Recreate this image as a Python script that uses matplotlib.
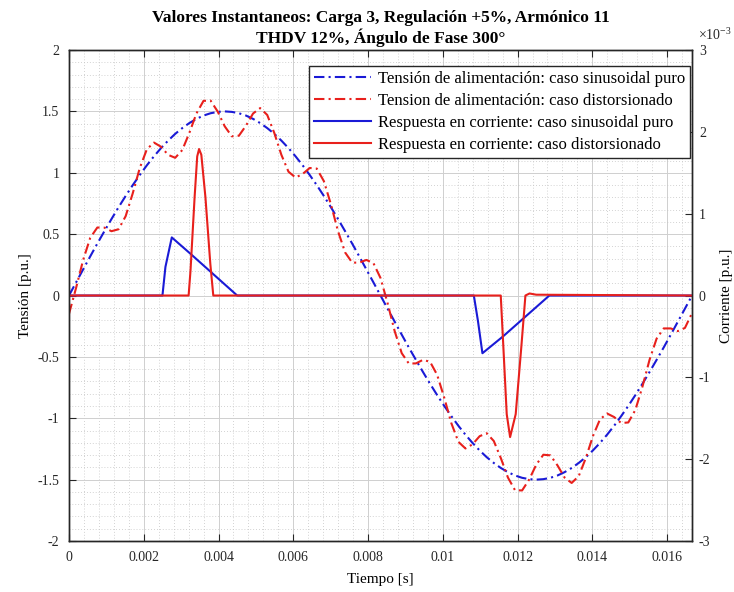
import numpy as np
import matplotlib
matplotlib.use("Agg")
import matplotlib.pyplot as plt
from matplotlib.ticker import AutoMinorLocator, FormatStrFormatter, FixedLocator

plt.rcParams['font.family'] = ['Liberation Serif', 'DejaVu Serif']
plt.rcParams['mathtext.fontset'] = 'custom'
plt.rcParams['mathtext.rm'] = 'Liberation Serif'
plt.rcParams['axes.unicode_minus'] = False

# ---------------- data ----------------
title_txt = "Valores Instantaneos: Carga 3, Regulación +5%, Armónico 11\nTHDV 12%, Ángulo de Fase 300°"
labels = ["Tensión de alimentación: caso sinusoidal puro",
          "Tension de alimentación: caso distorsionado",
          "Respuesta en corriente: caso sinusoidal puro",
          "Respuesta en corriente: caso distorsionado"]

# voltage samples over one 60 Hz cycle (89 samples)
t_v = np.linspace(0, 1/60, 89)
v_pure = [0, 0.107, 0.213, 0.319, 0.423, 0.524, 0.623, 0.719, 0.811, 0.899, 0.982, 1.061,
          1.134, 1.201, 1.262, 1.317, 1.364, 1.405, 1.439, 1.466, 1.485, 1.496, 1.5,
          1.496, 1.485, 1.466, 1.439, 1.405, 1.364, 1.317, 1.262, 1.201, 1.134, 1.061,
          0.982, 0.899, 0.811, 0.719, 0.623, 0.524, 0.423, 0.319, 0.213, 0.107, 0,
          -0.107, -0.213, -0.319, -0.423, -0.524, -0.623, -0.719, -0.811, -0.899, -0.982,
          -1.061, -1.134, -1.201, -1.262, -1.317, -1.364, -1.405, -1.439, -1.466, -1.485,
          -1.496, -1.5, -1.496, -1.485, -1.466, -1.439, -1.405, -1.364, -1.317, -1.262,
          -1.201, -1.134, -1.061, -0.982, -0.899, -0.811, -0.719, -0.623, -0.524, -0.423,
          -0.319, -0.213, -0.107, 0]
v_dist = [-0.150, 0.062, 0.290, 0.470, 0.554, 0.553, 0.524, 0.540, 0.646, 0.832, 1.039,
          1.192, 1.246, 1.212, 1.146, 1.122, 1.185, 1.325, 1.483, 1.586, 1.588, 1.499,
          1.378, 1.297, 1.302, 1.384, 1.483, 1.527, 1.471, 1.324, 1.146, 1.009, 0.961,
          0.990, 1.039, 1.034, 0.932, 0.742, 0.524, 0.351, 0.268, 0.268, 0.290, 0.264,
          0.143,
          -0.062, -0.290, -0.470, -0.554, -0.553, -0.524, -0.540, -0.646, -0.832, -1.039,
          -1.192, -1.246, -1.212, -1.146, -1.122, -1.185, -1.325, -1.483, -1.586, -1.588,
          -1.499, -1.378, -1.297, -1.302, -1.384, -1.483, -1.527, -1.471, -1.324, -1.146,
          -1.009, -0.961, -0.990, -1.039, -1.034, -0.932, -0.742, -0.524, -0.351, -0.268,
          -0.268, -0.290, -0.264, -0.143]

# current responses (units of 1e-3 p.u.)
t_i_pure = [0, 0.00250, 0.00258, 0.00275, 0.00325, 0.00450, 0.01083, 0.01094, 0.01106,
            0.01161, 0.01285, 0.016667]
i_pure = [0, 0, 0.35, 0.71, 0.51, 0, 0, -0.31, -0.705, -0.50, 0, 0]

t_i_dist = [0, 0.00320, 0.00325, 0.00336, 0.00343, 0.00348, 0.00354, 0.00365, 0.00378,
            0.00386, 0.01155, 0.01162, 0.01171, 0.01180, 0.01195, 0.01210, 0.01221,
            0.01232, 0.01250, 0.016667]
i_dist = [0, 0, 0.30, 1.20, 1.70, 1.79, 1.72, 1.20, 0.39, 0, 0, -0.63, -1.45, -1.73,
          -1.45, -0.63, 0, 0.025, 0.01, 0]

x_ticks = [0, 0.002, 0.004, 0.006, 0.008, 0.01, 0.012, 0.014, 0.016]
y_ticks = [-2, -1.5, -1, -0.5, 0, 0.5, 1, 1.5, 2]
y2_ticks = [-3, -2, -1, 0, 1, 2, 3]

# ---------------- style ----------------
blue = '#1a1ad6'
red = '#e8201c'
ink = '#262626'
dashdot = (0, (5, 2, 1, 2))

fig = plt.figure(figsize=(7.34, 5.92), dpi=100)
ax = fig.add_axes([0.094, 0.0861, 0.8488, 0.8294])
ax2 = ax.twinx()

l1, = ax.plot(t_v, v_pure, color=blue, lw=1.5, ls=dashdot)
l2, = ax.plot(t_v, v_dist, color=red, lw=1.5, ls=dashdot)
l3, = ax2.plot(t_i_pure, i_pure, color=blue, lw=1.5)
l4, = ax2.plot(t_i_dist, i_dist, color=red, lw=1.5)

ax.set_xlim(0, 1/60)
ax.set_ylim(-2, 2)
ax2.set_ylim(-3, 3)

ax.xaxis.set_major_locator(FixedLocator(x_ticks))
ax.yaxis.set_major_locator(FixedLocator(y_ticks))
ax2.yaxis.set_major_locator(FixedLocator(y2_ticks))
ax.xaxis.set_major_formatter(FormatStrFormatter('%g'))
ax.yaxis.set_major_formatter(FormatStrFormatter('%g'))
ax2.yaxis.set_major_formatter(FormatStrFormatter('%g'))
ax.xaxis.set_minor_locator(AutoMinorLocator(5))
ax.yaxis.set_minor_locator(AutoMinorLocator(5))

ax.grid(which='major', color='#cfcfcf', lw=0.7, ls='-')
ax.grid(which='minor', color='#c4c4c4', lw=0.6, ls=(0, (1, 2.5)))
ax.set_axisbelow(True)

ax.tick_params(which='major', direction='in', length=5, top=True, right=False,
               labelsize=10, colors=ink, pad=7)
ax.tick_params(which='minor', length=0, top=True, right=False)
ax2.tick_params(which='major', direction='in', length=5, labelsize=10, colors=ink, pad=5)
for a in (ax, ax2):
    for s in a.spines.values():
        s.set_color(ink)
        s.set_linewidth(1.0)

ax.set_title(title_txt, fontsize=12.5, fontweight='bold', pad=5, color='black',
             linespacing=1.15)
ax.set_xlabel('Tiempo [s]', fontsize=11)
ax.set_ylabel('Tensión [p.u.]', fontsize=11)
ax2.set_ylabel('Corriente [p.u.]', fontsize=11)
ax.xaxis.set_label_coords(0.5, -0.066)
ax.yaxis.set_label_coords(-0.060, 0.5)
ax2.yaxis.set_label_coords(1.045, 0.5)

fig.text(698/734, 1 - 35/592, r'$\times 10^{-3}$', fontsize=10, ha='left', va='center', color=ink)

leg = ax2.legend([l1, l2, l3, l4], labels, loc='upper right',
                 bbox_to_anchor=(0.9968, 0.9674), fontsize=12, frameon=True,
                 fancybox=False, edgecolor=ink, framealpha=1, borderpad=0.3,
                 labelspacing=0.36, handlelength=3.4, handletextpad=0.4,
                 borderaxespad=0)
leg.get_frame().set_linewidth(1.0)

fig.savefig('out.png', dpi=100)
